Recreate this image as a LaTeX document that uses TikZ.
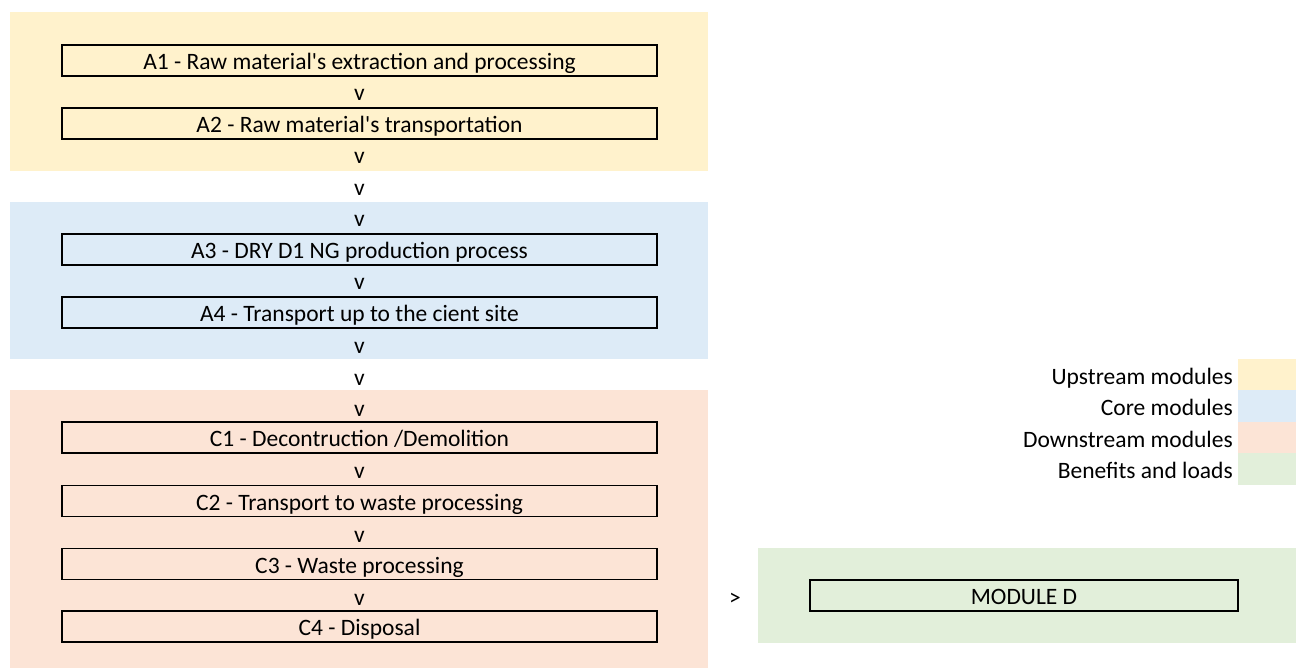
\documentclass[tikz,border=0pt]{standalone}
\usepackage{fontspec}
\setmainfont{Carlito}
\definecolor{upstream}{HTML}{FFF2CC}
\definecolor{core}{HTML}{DDEBF7}
\definecolor{downstream}{HTML}{FCE4D6}
\definecolor{benefits}{HTML}{E2EFDA}
\newcommand\cellfont{\fontsize{23.5}{27}\selectfont}

\begin{document}
\begin{tikzpicture}[x=1pt,y=-1pt,
  every node/.style={font=\cellfont,inner sep=0pt,text height=20pt,text depth=2pt},
  modbox/.style={draw,line width=1.1pt,minimum width=595pt,minimum height=31pt}]
  \useasboundingbox (0,0) rectangle (1296,668);
  % coloured bands
  \fill[upstream]   (10,12)  rectangle (708,171);
  \fill[core]       (10,202) rectangle (708,359);
  \fill[downstream] (10,390) rectangle (708,668);
  \fill[benefits]   (758,548) rectangle (1296,643);
  % modules
  \node[modbox] (a1) at (359.5,60.5)  {A1 - Raw material\textquotesingle s extraction and processing};
  \node[modbox] (a2) at (359.5,123.5) {A2 - Raw material\textquotesingle s transportation};
  \node[modbox] (a3) at (359.5,249.5) {A3 - DRY D1 NG production process};
  \node[modbox] (a4) at (359.5,312.5) {A4 - Transport up to the cient site};
  \node[modbox] (c1) at (359.5,437.5) {C1 - Decontruction /Demolition};
  \node[modbox] (c2) at (359.5,501)   {C2 - Transport to waste processing};
  \node[modbox] (c3) at (359.5,564)   {C3 - Waste processing};
  \node[modbox] (c4) at (359.5,626.5) {C4 - Disposal};
  \node[modbox,minimum width=428pt] (md) at (1024,595.5) {MODULE D};
  % the v marks between rows
  \foreach \n/\y in {1/92,2/155,3/187,4/218,5/281,6/344,7/376,8/407,9/469,10/533,11/596}
    \node (v\n) at (359.5,\y) {v};
  \node (gt) at (735,596) {>};
  % legend
  \fill[upstream]   (1238,359) rectangle (1296,390);
  \fill[core]       (1238,390) rectangle (1296,422);
  \fill[downstream] (1238,422) rectangle (1296,453);
  \fill[benefits]   (1238,453) rectangle (1296,485);
  \node[anchor=east] (lu) at (1233,375) {Upstream modules};
  \node[anchor=east] (lc) at (1233,406) {Core modules};
  \node[anchor=east] (ld) at (1233,438) {Downstream modules};
  \node[anchor=east] (lb) at (1233,469) {Benefits and loads};
\end{tikzpicture}
\end{document}
